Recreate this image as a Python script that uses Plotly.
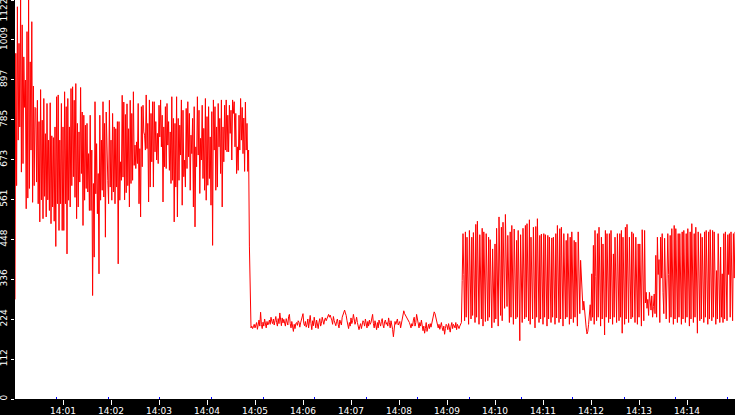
import pandas as pd
import plotly.graph_objects as go

START = "2024-01-01 14:00:00"
END = "2024-01-01 14:15:00"

# --- samples, one per second ---
# busy phase 14:00:00 - ~14:04:54
seg_busy = [
    280, 972, 600, 1103, 728, 1000, 765, 1122, 638, 1052, 662, 962, 820, 897, 535, 1033, 565, 1122, 592, 948,
    700, 1061, 553, 880, 600, 820,
    817, 610, 840, 549, 780, 498, 870, 560, 784, 507, 845, 570, 746, 512, 831, 560, 728, 530, 833, 493,
    740, 540, 735, 500, 765, 429, 850, 549, 855, 474, 728, 549, 831, 474, 765, 474, 864, 549, 822, 408,
    845, 559, 765, 540, 873, 600, 878, 625, 840, 567, 887, 507, 775, 540, 751, 610, 876, 634, 807, 488,
    798, 559, 770, 592, 775, 582, 690, 530, 798, 530, 700, 291, 606, 399, 836, 577, 718, 521, 634, 352,
    798, 559, 728, 587, 836, 568, 775, 455, 807, 634, 615, 549, 840, 596, 728, 559, 803, 582, 765, 549,
    760, 596, 780, 380, 780, 559, 667, 615, 854, 624, 835, 560, 800, 580, 830, 600, 760, 540,
    840, 606, 803, 615, 864, 657, 714, 648, 723, 662, 831, 549, 704, 512, 822, 653, 826, 751, 742, 700,
    855, 704, 775, 554, 841, 596, 803, 667, 836, 596, 836, 695, 780, 672, 747, 662, 826, 737, 841, 709,
    798, 554, 765, 653, 822, 648, 831, 714, 780, 643, 751, 606, 850, 615, 789, 498, 775, 596, 850, 512,
    789, 615, 770, 686, 841, 545, 812, 625, 672, 596, 817, 648, 836, 681, 803, 587, 742, 690, 789, 540,
    822, 484, 709, 653, 850, 686, 812, 578, 733, 672, 826, 620, 761, 587, 845, 559, 794, 601, 822, 620,
    737, 545, 808, 432, 841, 700, 822, 587, 765, 596, 831, 709, 789, 634, 841, 540, 765, 667, 826, 700,
    841, 695, 798, 695, 826, 747, 812, 672, 841, 803, 836, 709, 803, 634, 709, 643, 798, 700, 845, 728,
    820, 690, 790, 640, 835, 700, 775, 640, 700, 430,
]

# quiet phase ~14:04:55 - ~14:09:18
seg_quiet = [
    245, 200, 205, 198, 203, 210, 200, 208, 215, 196, 212, 222, 205, 244, 210, 198, 216, 205, 225, 212, 200, 218, 208, 214,
    222, 210, 230, 218, 212, 225, 208, 220, 232, 215, 205, 226, 212, 242, 220, 206, 228, 214, 224, 210, 205, 226, 215, 208,
    232, 238, 212, 200, 218, 205, 190, 210, 198, 212, 215, 207, 220, 216, 202, 214, 222, 235, 240, 212, 206, 218, 202, 210,
    225, 200, 215, 235, 212, 195, 220, 206, 230, 218, 200, 222, 210, 198, 216, 226, 205, 212, 230, 218, 210, 222, 228, 220,
    226, 232, 238, 230, 236, 228, 222, 210, 232, 220, 215, 206, 218, 225, 210, 200, 222, 215, 208, 230, 236, 245, 250, 242,
    235, 220, 212, 198, 215, 205, 228, 212, 220, 238, 225, 210, 218, 230, 215, 202, 195, 205, 212, 198, 210, 220, 215, 205,
    225, 212, 200, 218, 205, 222, 210, 215, 228, 238, 212, 200, 220, 208, 195, 215, 200, 222, 210, 205, 218, 226, 208, 200,
    218, 222, 210, 215, 205, 228, 215, 200, 220, 210, 196, 175, 205, 218, 210, 215, 225, 208, 212, 218, 200, 215, 222, 235,
    248, 240, 236, 232, 228, 225, 220, 215, 208, 200, 212, 205, 222, 230, 205, 215, 238, 220, 212, 200, 215, 205, 222, 210,
    192, 205, 185, 198, 215, 190, 205, 210, 198, 212, 202, 215, 225, 235, 245, 240, 230, 215, 208, 200, 210, 196, 205, 215,
    200, 192, 205, 182, 198, 210, 206, 195, 212, 200, 188, 205, 215, 198, 210, 206, 200, 215, 195, 210, 204, 198, 205, 212,
]

# medium phase ~14:09:18 - 14:15:00
seg_medium = [
    215, 333, 465, 350, 220, 470, 230, 455, 340, 210, 474, 345, 225, 455, 235, 468, 350, 215, 491, 230, 500, 340, 210, 462,
    350, 225, 480, 205, 470, 352, 218, 465, 335, 220, 455, 230, 448, 345, 200, 422, 350, 215, 436, 225, 480, 340, 205, 512,
    350, 235, 483, 220, 497, 270, 255, 519, 330, 260, 460, 345, 215, 470, 230, 488, 340, 210, 478, 350, 225, 446, 230, 474,
    345, 164, 462, 350, 215, 480, 340, 225, 488, 230, 493, 350, 220, 504, 210, 455, 345, 225, 483, 352, 200, 485, 230, 507,
    340, 215, 460, 225, 464, 345, 210, 465, 230, 462, 350, 205, 460, 225, 455, 340, 215, 453, 230, 455, 352, 210, 465, 228,
    488, 345, 215, 479, 225, 483, 340, 205, 465, 350, 225, 446, 230, 465, 345, 210, 455, 225, 470, 350, 215, 446, 230, 441,
    345, 205, 470, 357, 240, 390, 330, 260, 250, 275, 240, 215, 200, 183, 190, 210, 240, 265, 220, 352, 230, 432, 210, 474,
    345, 220, 465, 230, 483, 350, 205, 455, 225, 436, 345, 180, 474, 230, 465, 340, 215, 465, 225, 474, 350, 210, 408, 230,
    455, 345, 215, 465, 350, 220, 465, 230, 474, 185, 455, 340, 210, 483, 225, 491, 350, 215, 455, 345, 225, 470, 230, 465,
    340, 215, 455, 345, 210, 436, 230, 436, 340, 205, 476, 350, 220, 474, 270, 300, 255, 280, 235, 300, 270, 250, 290, 230,
    260, 295, 240, 404, 230, 455, 350, 392, 215, 455, 340, 465, 300, 240, 452, 330, 225, 340, 465, 350, 215, 460, 230, 479,
    345, 210, 488, 225, 479, 350, 215, 465, 230, 465, 340, 210, 470, 225, 474, 350, 215, 465, 230, 479, 345, 205, 470, 225,
    493, 350, 215, 465, 230, 483, 340, 185, 470, 350, 220, 465, 225, 455, 345, 215, 470, 230, 474, 350, 210, 470, 225, 476,
    345, 220, 474, 230, 470, 350, 210, 361, 225, 465, 340, 215, 427, 230, 352, 215, 465, 225, 470, 345, 220, 462, 350, 465,
    230, 470, 345, 220, 465, 340, 470,
]

y_tick_vals = [0, 112.2, 224.4, 336.6, 448.8, 561.0, 673.2, 785.4, 897.6, 1009.8, 1122]
y_tick_text = ["0", "112", "224", "336", "448", "561", "673", "785", "897", "1009", "1122"]
x_tick_text = ["14:01", "14:02", "14:03", "14:04", "14:05", "14:06", "14:07",
               "14:08", "14:09", "14:10", "14:11", "14:12", "14:13", "14:14"]

values = seg_busy + seg_quiet + seg_medium
times = pd.date_range(START, periods=len(values), freq="1s")
x_tick_vals = [pd.Timestamp("2024-01-01 " + t) for t in x_tick_text]

# keep the top label inside the canvas (rotated text reads bottom-to-top)
y_text_shown = y_tick_text[:-1] + [y_tick_text[-1] + "\u00a0" * 8]

fig = go.Figure()
fig.add_trace(go.Scatter(
    x=times, y=values, mode="lines",
    line=dict(color="#ff0000", width=1),
    hoverinfo="skip", showlegend=False,
))

fig.update_layout(
    width=735, height=415,
    margin=dict(l=15, r=0, t=0, b=16, pad=0, autoexpand=False),
    paper_bgcolor="black", plot_bgcolor="white",
    font=dict(family="DejaVu Sans", size=9, color="white"),
    showlegend=False,
)
fig.update_xaxes(
    type="date", range=[START, END], automargin=False,
    tickvals=x_tick_vals, ticktext=x_tick_text,
    ticks="outside", ticklen=5, tickwidth=1, tickcolor="white",
    ticklabelstandoff=-2,
    tickfont=dict(family="DejaVu Sans", size=9, color="white"),
    showgrid=False, zeroline=False, showline=False,
    minor=dict(ticks="inside", ticklen=2, tickwidth=1, tickcolor="blue",
               dtick=64500, tick0="2024-01-01 14:00:52", showgrid=False),
)
fig.update_yaxes(
    range=[0, 1122], automargin=False,
    tickvals=y_tick_vals, ticktext=y_text_shown, tickangle=-90,
    ticklabeloverflow="allow",
    ticks="outside", ticklen=3, tickwidth=1, tickcolor="white",
    tickfont=dict(family="DejaVu Sans", size=9, color="white"),
    showgrid=False, zeroline=False, showline=False,
)

fig.write_html(
    "out.html",
    config={"displayModeBar": False, "staticPlot": True},
    post_script="document.body.style.margin='0';document.body.style.background='black';",
)
